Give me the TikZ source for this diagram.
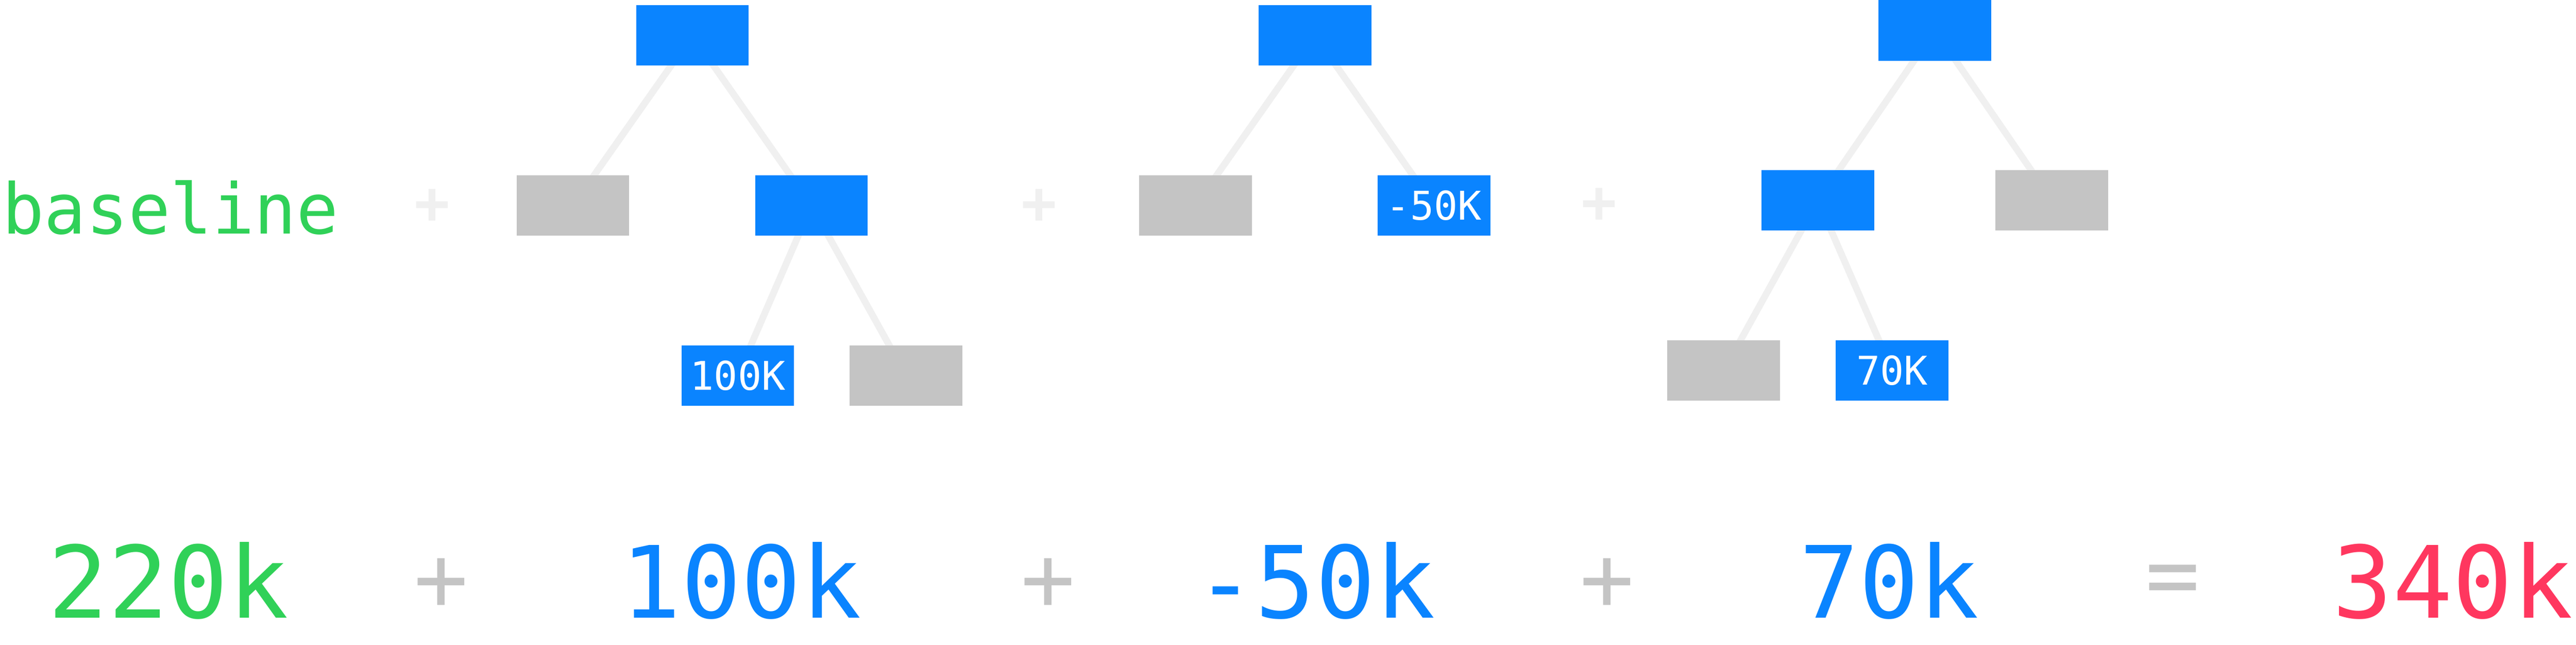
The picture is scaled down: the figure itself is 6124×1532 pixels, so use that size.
\documentclass[tikz,border=0pt]{standalone}
\usepackage{fontspec}
\newfontfamily\monof{DejaVu Sans Mono}[RawFeature=+zero]
\usetikzlibrary{backgrounds}
\definecolor{myblue}{HTML}{0A84FF}
\definecolor{mygreen}{HTML}{30D158}
\definecolor{mypink}{HTML}{FF375F}
\definecolor{mygray}{HTML}{C4C4C4}
\definecolor{edgegray}{HTML}{F0F0F0}
\begin{document}
\begin{tikzpicture}[x=1pt,y=-1pt,
  box/.style={rectangle, minimum width=268pt, minimum height=144pt, inner sep=0pt, outer sep=0pt},
  bluebox/.style={box, fill=myblue, text=white, font=\monof\fontsize{94}{94}\selectfont},
  graybox/.style={box, fill=mygray},
  edge/.style={draw=edgegray, line width=16pt},
  lightplus/.style={text=edgegray, inner sep=0pt, font=\monof\bfseries\fontsize{140}{140}\selectfont},
  bigop/.style={text=mygray, inner sep=0pt, font=\monof\fontsize{215}{215}\selectfont},
  sumnum/.style={inner sep=0pt, anchor=base, font=\monof\fontsize{237}{237}\selectfont},
  basetext/.style={inner sep=0pt, anchor=base, text=mygreen, font=\monof\fontsize{166}{166}\selectfont}
]
\useasboundingbox (0,0) rectangle (6124,1532);
% tree 1
\node[bluebox] (r1) at (1646,84) {};
\node[graybox] (a1) at (1362,488) {};
\node[bluebox] (b1) at (1929,488) {};
\node[bluebox] (c1) at (1754,892) {100K};
\node[graybox] (d1) at (2154,892) {};
% tree 2
\node[bluebox] (r2) at (3126,84) {};
\node[graybox] (a2) at (2842,488) {};
\node[bluebox] (b2) at (3409,488) {-50K};
% tree 3
\node[bluebox] (r3) at (4600,72) {};
\node[bluebox] (a3) at (4322,476) {};
\node[graybox] (b3) at (4878,476) {};
\node[graybox] (c3) at (4098,880) {};
\node[bluebox] (d3) at (4498,880) {70K};
% top row labels
\node[basetext] (bl) at (405,556) {baseline};
\node[lightplus] (p1) at (1027,490) {+};
\node[lightplus] (p2) at (2470,490) {+};
\node[lightplus] (p3) at (3802,488) {+};
% bottom row
\node[sumnum, text=mygreen] (s1) at (400,1468) {220k};
\node[bigop] (q1) at (1049,1388) {+};
\node[sumnum, text=myblue] (s2) at (1762,1468) {100k};
\node[bigop] (q2) at (2492,1388) {+};
\node[sumnum, text=myblue] (s3) at (3127,1468) {-50k};
\node[bigop] (q3) at (3820,1388) {+};
\node[sumnum, text=myblue] (s4) at (4491,1468) {70k};
\node[bigop] (q4) at (5165,1391) {=};
\node[sumnum, text=mypink] (s5) at (5831,1468) {340k};
\begin{pgfonlayer}{background}
\fill[white] (0,0) rectangle (6124,1532);
\draw[edge] (r1.center) -- (a1.center);
\draw[edge] (r1.center) -- (b1.center);
\draw[edge] (b1.center) -- (c1.center);
\draw[edge] (b1.center) -- (d1.center);
\draw[edge] (r2.center) -- (a2.center);
\draw[edge] (r2.center) -- (b2.center);
\draw[edge] (r3.center) -- (a3.center);
\draw[edge] (r3.center) -- (b3.center);
\draw[edge] (a3.center) -- (c3.center);
\draw[edge] (a3.center) -- (d3.center);
\end{pgfonlayer}
\end{tikzpicture}
\end{document}
